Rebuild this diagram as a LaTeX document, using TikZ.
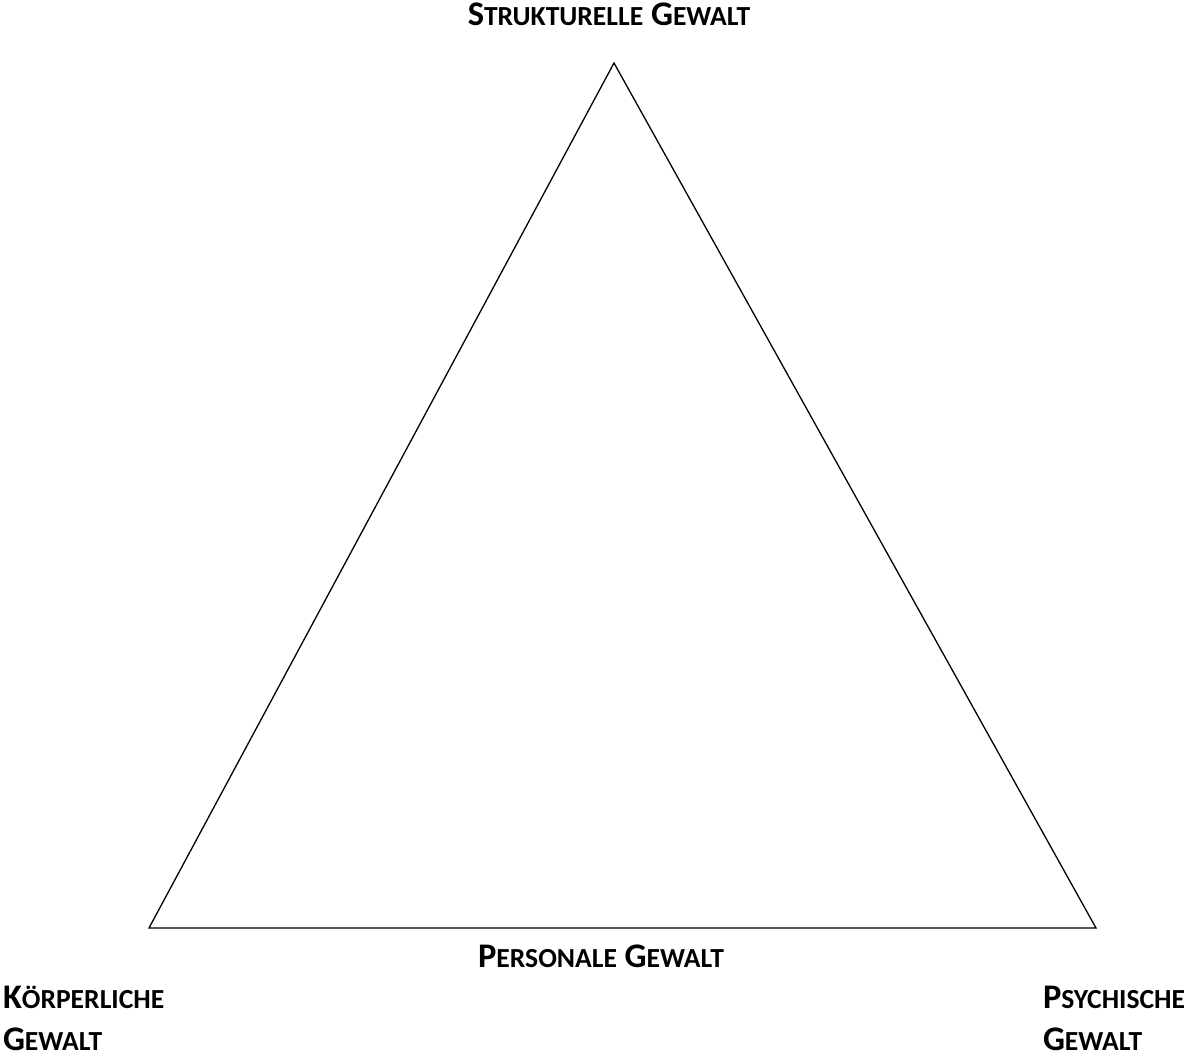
\documentclass[tikz,border=0pt]{standalone}
\usepackage{fontspec}
\setmainfont{Carlito}
\newcommand\SCword[2]{{\fontsize{34.5}{42}\selectfont #1}{\fontsize{27.6}{42}\selectfont #2}}
\begin{document}
\begin{tikzpicture}[x=1pt,y=-1pt,
  lbl/.style={inner sep=0pt, outer sep=0pt, font=\bfseries\fontsize{34.5}{42}\selectfont},
  edge/.style={line width=1.3pt, line join=miter}]
\useasboundingbox (0,0) rectangle (1189,1057);
\coordinate (T) at (614,63);
\coordinate (L) at (149,928);
\coordinate (R) at (1096,928);
\draw[edge] (T) -- (L) -- (R) -- cycle;
\node[lbl, anchor=base] (struk) at (609,26) {\SCword{S}{TRUKTURELLE} \SCword{G}{EWALT}};
\node[lbl, anchor=base] (pers) at (601,967) {\SCword{P}{ERSONALE} \SCword{G}{EWALT}};
\node[lbl, anchor=base west, align=left] (koerp) at (3,1050) {\SCword{K}{ÖRPERLICHE}\\\SCword{G}{EWALT}};
\node[lbl, anchor=base west, align=left] (psych) at (1043,1050) {\SCword{P}{SYCHISCHE}\\\SCword{G}{EWALT}};
\end{tikzpicture}
\end{document}
